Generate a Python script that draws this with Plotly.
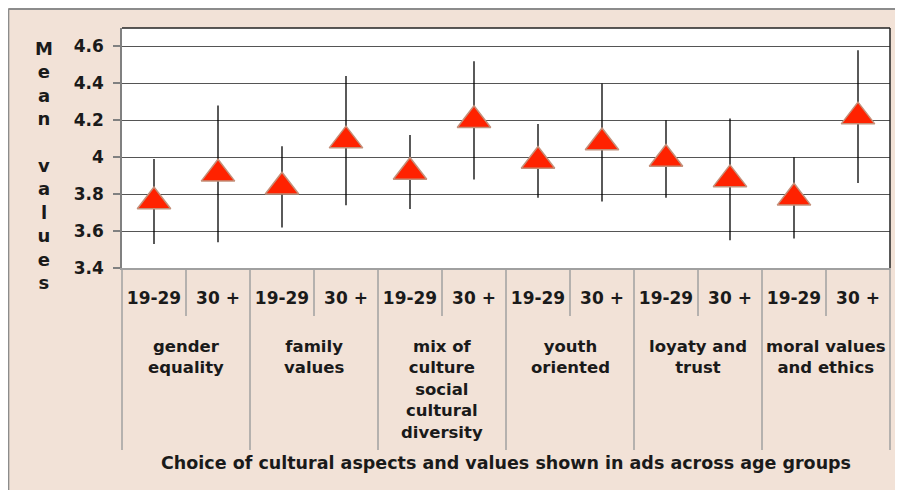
import plotly.graph_objects as go

# ---- data ----
groups = ["gender<br>equality", "family<br>values",
          "mix of<br>culture<br>social<br>cultural<br>diversity",
          "youth<br>oriented", "loyaty and<br>trust", "moral values<br>and ethics"]
age_groups = ["19-29", "30 +"]
mean_19_29 = [3.76, 3.84, 3.92, 3.98, 3.99, 3.78]
mean_30_plus = [3.91, 4.09, 4.20, 4.08, 3.88, 4.22]
err_19_29 = [0.23, 0.22, 0.20, 0.20, 0.21, 0.22]
err_30_plus = [0.37, 0.35, 0.32, 0.32, 0.33, 0.36]
y_ticks = [3.4, 3.6, 3.8, 4.0, 4.2, 4.4, 4.6]
y_title = "Mean values"
x_title = "Choice of cultural aspects and values shown in ads across age groups"

# ---- build interleaved series ----
xs, ys, es, xlabels = [], [], [], []
for g in range(len(groups)):
    for a, (m, e) in enumerate([(mean_19_29[g], err_19_29[g]), (mean_30_plus[g], err_30_plus[g])]):
        xs.append(2 * g + a)
        ys.append(m)
        es.append(e)
        xlabels.append(age_groups[a])

n_cat = len(xs)
FONT = "DejaVu Sans"
TXT = "#1a1a1a"
BEIGE = "#F2E2D7"

fig = go.Figure()
fig.add_trace(go.Scatter(
    x=xs, y=ys, mode="markers",
    marker=dict(symbol="triangle-up", size=29, color="#FF2200",
                line=dict(color="#C4907A", width=1.5)),
    error_y=dict(type="data", array=es, visible=True, color="black",
                 thickness=1.3, width=0),
    showlegend=False, hoverinfo="skip",
))

# plot frame: top + right dark
fig.add_shape(type="line", xref="x domain", yref="y domain", x0=0, x1=1, y0=1, y1=1,
              line=dict(color="#222", width=1.5), layer="above")
fig.add_shape(type="line", xref="x domain", yref="y domain", x0=1, x1=1, y0=0, y1=1,
              line=dict(color="#222", width=1.5), layer="above")

# separators under the axis
def xp(v):
    return (v + 0.5) / n_cat

for g in range(len(groups)):
    fig.add_shape(type="line", xref="paper", yref="paper",
                  x0=xp(2 * g + 0.5), x1=xp(2 * g + 0.5), y0=0, y1=-0.2,
                  line=dict(color="#A0A0A0", width=1.5))
for g in range(len(groups) + 1):
    fig.add_shape(type="line", xref="paper", yref="paper",
                  x0=xp(2 * g - 0.5), x1=xp(2 * g - 0.5), y0=0, y1=-0.758,
                  line=dict(color="#A0A0A0", width=1.5))

# group labels
for g, lab in enumerate(groups):
    fig.add_annotation(x=2 * g + 0.5, xref="x", y=-0.278, yref="paper",
                       text=lab, showarrow=False, yanchor="top", xanchor="center",
                       font=dict(family=FONT, size=16.5, color=TXT, weight="bold"))

# axis title
fig.add_annotation(x=0.5, xref="paper", y=-0.8125, yref="paper", text=x_title,
                   showarrow=False, xanchor="center", yanchor="middle",
                   font=dict(family=FONT, size=17.5, color=TXT, weight="bold"))
# y title stacked letters
fig.add_annotation(x=-0.1016, xref="paper", y=0.427, yref="paper",
                   text="<br>".join(list(y_title)),
                   showarrow=False, xanchor="center", yanchor="middle",
                   font=dict(family=FONT, size=18, color=TXT, weight="bold"))

# gray outer frame (top and left)
fig.add_shape(type="line", xref="paper", yref="paper", x0=-0.148, x1=1.1, y0=1.0792, y1=1.0792,
              line=dict(color="#8C8C8C", width=2), layer="below")
fig.add_shape(type="line", xref="paper", yref="paper", x0=-0.148, x1=-0.148, y0=-1.1, y1=1.0792,
              line=dict(color="#8C8C8C", width=2), layer="below")

fig.update_layout(
    width=895, height=482,
    margin=dict(l=114, r=13, t=20, b=222),
    paper_bgcolor=BEIGE, plot_bgcolor="white",
    font=dict(family=FONT, color=TXT),
    xaxis=dict(range=[-0.5, n_cat - 0.5], tickmode="array", tickvals=xs, ticktext=xlabels,
               showgrid=False, zeroline=False, showline=True, linecolor="#A0A0A0", linewidth=1.5,
               ticks="", ticklabelstandoff=14,
               tickfont=dict(family=FONT, size=17, color=TXT, weight="bold")),
    yaxis=dict(range=[3.4, 4.7], tickmode="array", tickvals=y_ticks,
               showgrid=True, gridcolor="#555", gridwidth=1, zeroline=False,
               showline=True, linecolor="#808080", linewidth=1.5,
               ticks="outside", ticklen=7, tickcolor="#808080", tickwidth=1.5,
               ticklabelstandoff=6,
               tickfont=dict(family=FONT, size=17, color=TXT, weight="bold")),
)

fig.write_html("out.html")
